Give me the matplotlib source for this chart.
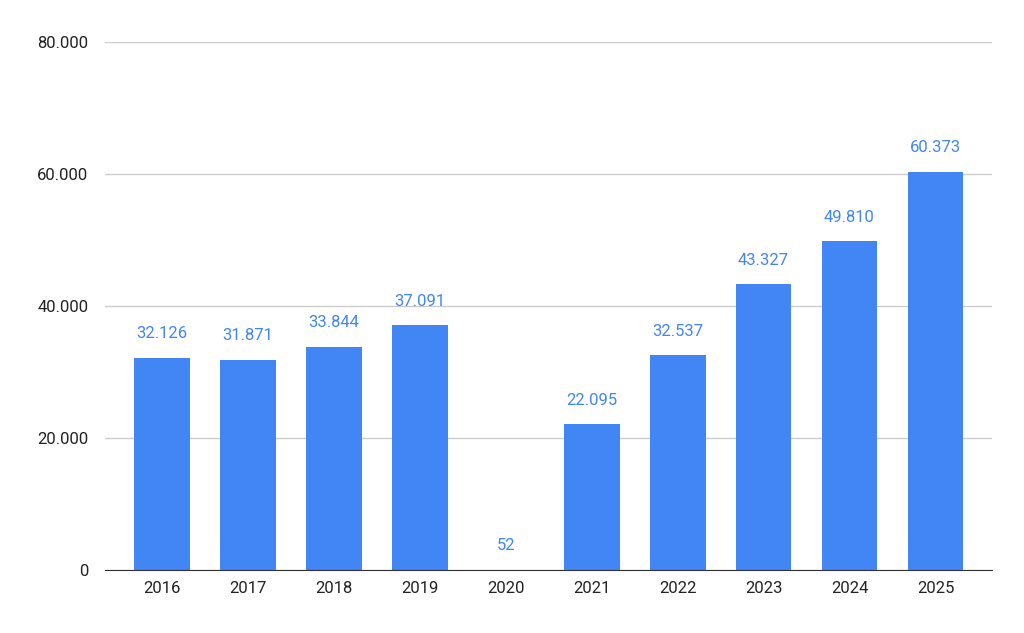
import matplotlib
matplotlib.use("Agg")
import matplotlib.pyplot as plt

years = ["2016", "2017", "2018", "2019", "2020", "2021", "2022", "2023", "2024", "2025"]
values = [32126, 31871, 33844, 37091, 52, 22095, 32537, 43327, 49810, 60373]
yticks = [0, 20000, 40000, 60000, 80000]

BLUE = "#4285F4"


def dotfmt(v):
    return f"{v:,}".replace(",", ".")


fig = plt.figure(figsize=(10.24, 6.33), dpi=100)
ax = fig.add_axes([0.1025, 0.0995, 0.8665, 0.8341])
plt.rcParams["font.family"] = ["Roboto", "DejaVu Sans"]

x = range(len(years))
bars = ax.bar(x, values, width=0.65, color=BLUE, zorder=3)
for xi, v in zip(x, values):
    ax.text(xi, v + 2500, dotfmt(v), ha="center", va="bottom",
            color=BLUE, fontsize=12, family=["Roboto", "DejaVu Sans"])

ax.set_ylim(0, 80000)
ax.set_xlim(-0.66, len(years) - 0.34)
ax.set_yticks(yticks)
ax.set_yticklabels([dotfmt(t) for t in yticks], family=["Roboto", "DejaVu Sans"])
ax.set_xticks(list(x))
ax.set_xticklabels(years, family=["Roboto", "DejaVu Sans"])
ax.tick_params(axis="both", length=0, labelsize=12, colors="#222222")
ax.tick_params(axis="y", pad=12)
ax.tick_params(axis="x", pad=8)
ax.grid(axis="y", color="#cccccc", linewidth=1, zorder=0)
for s in ["top", "right", "left"]:
    ax.spines[s].set_visible(False)
ax.spines["bottom"].set_color("#333333")
ax.spines["bottom"].set_zorder(4)

fig.savefig("out.png", dpi=100)
